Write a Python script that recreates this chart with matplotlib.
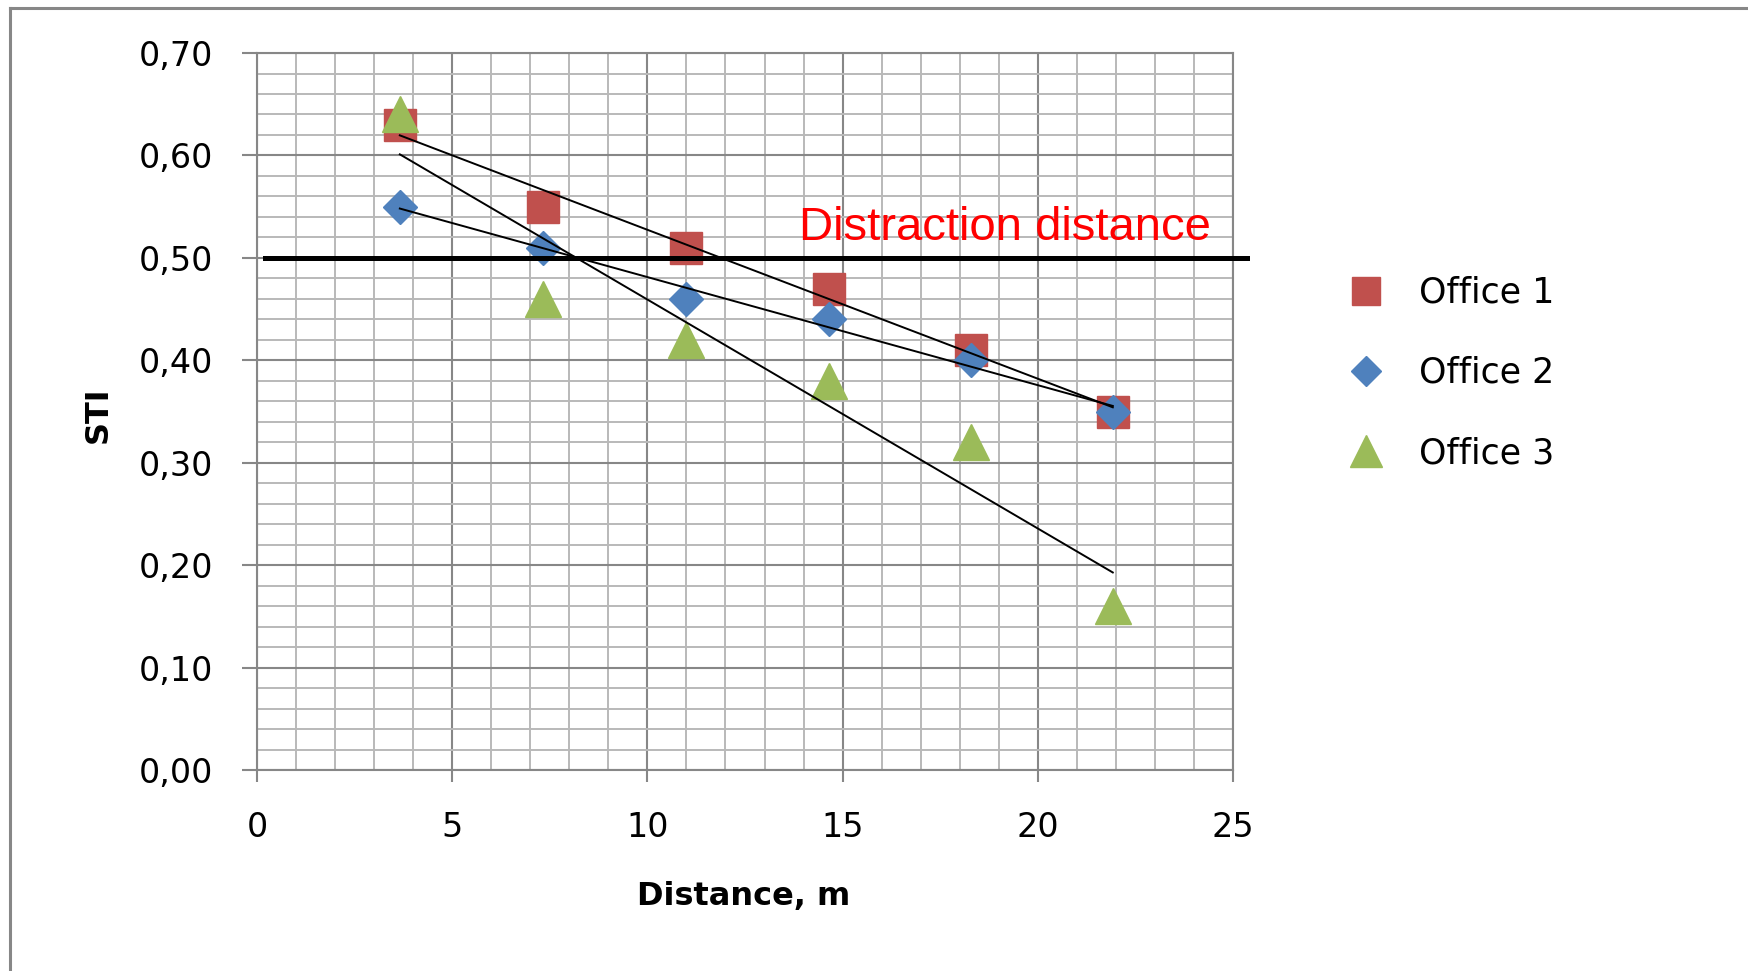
import numpy as np
import matplotlib
matplotlib.use("Agg")
import matplotlib.pyplot as plt
from matplotlib.ticker import MultipleLocator
from matplotlib.lines import Line2D

# measured distances (m) and STI values for each office
distance = [3.66, 7.32, 10.98, 14.64, 18.30, 21.92]
office1 = [0.63, 0.55, 0.51, 0.47, 0.41, 0.35]
office2 = [0.55, 0.51, 0.46, 0.44, 0.40, 0.35]
office3 = [0.64, 0.46, 0.42, 0.38, 0.32, 0.16]
series_names = ["Office 1", "Office 2", "Office 3"]

x_ticks = [0, 5, 10, 15, 20, 25]
y_ticks = [0.0, 0.1, 0.2, 0.3, 0.4, 0.5, 0.6, 0.7]
y_labels = ["0,00", "0,10", "0,20", "0,30", "0,40", "0,50", "0,60", "0,70"]
limit_sti = 0.50
limit_text = "Distraction distance"

fig = plt.figure(figsize=(17.49, 9.71), dpi=100)
ax = fig.add_axes([0.1469, 0.2070, 0.5581, 0.7384])

gray = "#878787"
styles = [("s", "#C0504D", 23), ("D", "#4F81BD", 17), ("^", "#9BBB59", 26)]
for vals, name, (mk, col, ms) in zip([office1, office2, office3], series_names, styles):
    ax.plot(distance, vals, linestyle="none", marker=mk, color=col,
            markersize=ms, label=name, zorder=3)

# linear trend lines like the Excel ones
for vals in [office1, office2, office3]:
    k, b = np.polyfit(distance, vals, 1)
    xs = np.array([distance[0], distance[-1]])
    ax.plot(xs, k * xs + b, color="black", lw=1.4, zorder=4)

# threshold line, goes a bit past the plot area
ax.plot([0.2, 25.36], [limit_sti, limit_sti], color="black", lw=3.6,
        clip_on=False, zorder=5)
ax.text(13.88, 0.5175, limit_text, color="red", fontsize=34,
        family="Liberation Sans", ha="left", va="baseline", zorder=6)

ax.set_xlim(0, 25)
ax.set_ylim(0, 0.70)
ax.set_xticks(x_ticks)
ax.set_xticklabels([str(t) for t in x_ticks])
ax.set_yticks(y_ticks)
ax.set_yticklabels(y_labels)
ax.xaxis.set_minor_locator(MultipleLocator(1))
ax.yaxis.set_minor_locator(MultipleLocator(0.02))

ax.set_axisbelow(True)
ax.grid(which="minor", color="#b9b9b9", lw=1.4)
ax.grid(which="major", color=gray, lw=1.5)
for s in ax.spines.values():
    s.set_color(gray)
    s.set_linewidth(1.5)

ax.tick_params(which="minor", length=0)
ax.tick_params(axis="y", which="major", length=10.8, width=1.5, color=gray,
               pad=21, labelsize=24)
ax.tick_params(axis="x", which="major", length=8.6, width=1.5, color=gray,
               pad=21, labelsize=24)

ax.set_xlabel("Distance, m", fontsize=23, fontweight="bold", va="center")
ax.xaxis.set_label_coords(0.499, -0.176)
ax.set_ylabel("STI", fontsize=23, fontweight="bold", va="center")
ax.yaxis.set_label_coords(-0.163, 0.495)

ax.legend(loc="upper left", bbox_to_anchor=(0.7713, 0.716),
          bbox_transform=fig.transFigure, frameon=False, fontsize=25,
          handlelength=1.0, handletextpad=1.03, labelspacing=1.33,
          borderpad=0, borderaxespad=0, markerscale=0.9)

# outer chart border (left and top edges show in the picture)
fig.add_artist(Line2D([10 / 1749, 10 / 1749], [0, 1 - 8 / 971], color=gray,
                      lw=2.2, transform=fig.transFigure))
fig.add_artist(Line2D([10 / 1749, 1], [1 - 8 / 971, 1 - 8 / 971], color=gray,
                      lw=2.2, transform=fig.transFigure))

fig.savefig("out.png", dpi=100)
